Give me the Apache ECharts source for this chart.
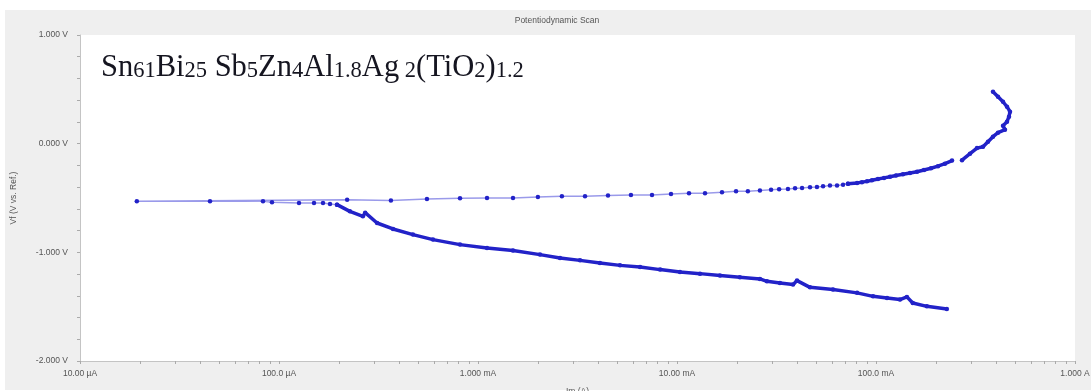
<!DOCTYPE html>
<html>
<head>
<meta charset="utf-8">
<title>Potentiodynamic Scan</title>
<script src="https://cdn.jsdelivr.net/npm/echarts@6/dist/echarts.min.js"></script>
<style>
  html, body { margin: 0; padding: 0; background: #ffffff; }
  #chart { width: 1091px; height: 391px; }
</style>
</head>
<body>
<div id="chart"></div>
<script>
// Cathodic branch, in scan order (high current end towards Ecorr): current in A, potential in V
const cathodicI = [0.227, 0.180, 0.153, 0.143, 0.132, 0.1136, 0.0966, 0.0803, 0.0608, 0.0466,
  0.0401, 0.0383, 0.0329, 0.0283, 0.0261, 0.0207, 0.01645, 0.01305, 0.01035, 0.00822,
  0.00652, 0.00517, 0.00410, 0.003255, 0.002583, 0.002049, 0.001499, 0.00111, 0.000812, 0.000594,
  0.000471, 0.000374, 0.000311, 0.000271, 0.000264, 0.000227, 0.0001957];
const cathodicV = [-1.521, -1.497, -1.466, -1.410, -1.435, -1.420, -1.405, -1.373, -1.343, -1.322,
  -1.260, -1.297, -1.282, -1.267, -1.245, -1.230, -1.214, -1.196, -1.180, -1.159,
  -1.134, -1.120, -1.098, -1.074, -1.052, -1.021, -0.984, -0.960, -0.929, -0.883,
  -0.837, -0.785, -0.730, -0.635, -0.669, -0.623, -0.561];

// Around Ecorr and the lower anodic region (sparse points joined by a thin line)
const transitionI = [0.0001957, 0.0001804, 0.0001664, 0.0001499, 0.000126, 0.0000922, 0.0000831, 0.000045, 0.0000193,
  0.00022, 0.000365, 0.000554, 0.000812, 0.00111, 0.001499, 0.00200, 0.00264, 0.00345, 0.00450,
  0.00587, 0.00749, 0.00933, 0.01149, 0.01383, 0.01683, 0.0198, 0.0227, 0.0261, 0.0297,
  0.0326, 0.0361, 0.0392, 0.0425, 0.0466, 0.0505, 0.0542, 0.0587, 0.0637, 0.0683, 0.0723];
const transitionV = [-0.561, -0.555, -0.546, -0.546, -0.546, -0.540, -0.531, -0.531, -0.531,
  -0.515, -0.522, -0.509, -0.503, -0.500, -0.500, -0.490, -0.485, -0.485, -0.478,
  -0.472, -0.472, -0.463, -0.457, -0.457, -0.448, -0.439, -0.439, -0.432, -0.423,
  -0.420, -0.417, -0.411, -0.408, -0.402, -0.398, -0.393, -0.386, -0.384, -0.377, -0.368];

// Upper anodic branch (dense points)
const anodicI = [0.0723, 0.0803, 0.0850, 0.0901, 0.0955, 0.1023, 0.1097, 0.1176, 0.1260,
  0.1367, 0.1482, 0.1607, 0.1743, 0.1890, 0.2049, 0.2221, 0.2410];
const anodicV = [-0.368, -0.362, -0.354, -0.347, -0.337, -0.325, -0.315, -0.304, -0.293,
  -0.281, -0.270, -0.258, -0.242, -0.226, -0.207, -0.184, -0.156];

// Passivation turn at the top of the scan
const passiveI = [0.2705, 0.2968, 0.3217, 0.3449, 0.3654, 0.3871, 0.4103, 0.4448,
  0.4347, 0.4553, 0.4659, 0.4714, 0.4553, 0.4347, 0.4103, 0.3871];
const passiveV = [-0.152, -0.092, -0.041, -0.028, 0.018, 0.064, 0.101, 0.129,
  0.166, 0.202, 0.248, 0.294, 0.340, 0.386, 0.432, 0.478];

// Axis ticks and labels
const xTickValues = [1e-5, 1e-4, 1e-3, 1e-2, 1e-1, 1];
const xTickLabels = ['10.00 \u00b5A', '100.0 \u00b5A', '1.000 mA', '10.00 mA', '100.0 mA', '1.000 A'];
const xMinorMultipliers = [1, 2, 3, 4, 5, 6, 7, 8, 9];
const yTickValues = [-2, -1, 0, 1];
const yTickLabels = ['-2.000 V', '-1.000 V', '0.000 V', '1.000 V'];

const xMinorExponents = [];
for (let d = -5; d < 0; d++) {
  xMinorMultipliers.forEach(function (k) { xMinorExponents.push(d + Math.log10(k)); });
}
xMinorExponents.push(0);

function zip(xs, ys) { return xs.map(function (x, i) { return [x, ys[i]]; }); }
function lookup(values, labels, v) {
  for (let i = 0; i < values.length; i++) {
    if (Math.abs(values[i] - v) <= Math.abs(values[i]) * 1e-6 + 1e-12) return labels[i];
  }
  return '';
}

const markColor = '#2222c8';
const smallText = { fontFamily: 'Liberation Sans', fontSize: 8.5, color: '#555555' };

const chart = echarts.init(document.getElementById('chart'), null, { renderer: 'canvas' });
chart.setOption({
  backgroundColor: '#ffffff',
  animation: false,
  textStyle: { fontFamily: 'Liberation Sans' },
  grid: {
    left: 80, right: 16, top: 35, bottom: 30,
    outerBoundsMode: 'none', containLabel: false,
    show: true, backgroundColor: '#ffffff', borderWidth: 0
  },
  xAxis: [{
    type: 'log', logBase: 10, min: 1e-5, max: 1,
    name: 'Im (A)', nameLocation: 'middle', nameGap: 26,
    nameTextStyle: smallText,
    axisLine: { show: true, onZero: false, lineStyle: { color: '#c4c4c4', width: 1 } },
    axisTick: { show: false },
    splitLine: { show: false },
    axisLabel: Object.assign({ margin: 8, formatter: function (v) { return lookup(xTickValues, xTickLabels, v); } }, smallText)
  }, {
    type: 'value', min: -5, max: 0, position: 'bottom',
    axisLine: { show: false, onZero: false },
    axisLabel: { show: false },
    splitLine: { show: false },
    axisTick: { show: true, length: 3, customValues: xMinorExponents, lineStyle: { color: '#aaaaaa' } }
  }],
  yAxis: {
    type: 'value', min: -2, max: 1, interval: 1,
    name: 'Vf (V vs. Ref.)', nameLocation: 'middle', nameGap: 62, nameRotate: 90,
    nameTextStyle: smallText,
    axisLine: { show: true, onZero: false, lineStyle: { color: '#c4c4c4', width: 1 } },
    axisTick: { show: true, length: 3, lineStyle: { color: '#aaaaaa' } },
    minorTick: { show: true, splitNumber: 5, length: 3, lineStyle: { color: '#aaaaaa' } },
    splitLine: { show: false },
    axisLabel: Object.assign({ margin: 12, formatter: function (v) { return lookup(yTickValues, yTickLabels, v); } }, smallText)
  },
  graphic: [
    { type: 'rect', z: -10, silent: true, shape: { x: 5, y: 10, width: 1086, height: 380 }, style: { fill: '#efefef' } },
    { type: 'text', x: 557, y: 21, silent: true,
      style: { text: 'Potentiodynamic Scan', fontFamily: 'Liberation Sans', fontSize: 8.5, fill: '#555555', align: 'center', verticalAlign: 'middle' } },
    { type: 'text', x: 101, y: 47, silent: true,
      style: {
        text: '{n|Sn}{s|61}{n|Bi}{s|25}{n| Sb}{s|5}{n|Zn}{s|4}{n|Al}{s|1.8}{n|Ag}{s| 2}{n|(TiO}{s|2}{n|)}{s|1.2}',
        align: 'left', verticalAlign: 'top', fill: '#151520',
        fontFamily: 'Liberation Serif', fontSize: 30.5,
        rich: {
          n: { fontFamily: 'Liberation Serif', fontSize: 30.5, lineHeight: 36, fill: '#151520', verticalAlign: 'bottom' },
          s: { fontFamily: 'Liberation Serif', fontSize: 22.5, lineHeight: 26, fill: '#151520', verticalAlign: 'bottom' }
        }
      } }
  ],
  series: [{
    name: 'cathodic', type: 'line', xAxisIndex: 0,
    data: zip(cathodicI, cathodicV),
    symbol: 'circle', symbolSize: 4.5, showAllSymbol: true,
    itemStyle: { color: markColor },
    lineStyle: { color: markColor, width: 3.5 },
    emphasis: { disabled: true }
  }, {
    name: 'transition', type: 'line', xAxisIndex: 0,
    data: zip(transitionI, transitionV),
    symbol: 'circle', symbolSize: 4.5, showAllSymbol: true,
    itemStyle: { color: markColor },
    lineStyle: { color: '#9a9aea', width: 1.5 },
    emphasis: { disabled: true }
  }, {
    name: 'anodic', type: 'line', xAxisIndex: 0,
    data: zip(anodicI, anodicV),
    symbol: 'circle', symbolSize: 4.5, showAllSymbol: true,
    itemStyle: { color: markColor },
    lineStyle: { color: markColor, width: 3.5 },
    emphasis: { disabled: true }
  }, {
    name: 'passive', type: 'line', xAxisIndex: 0,
    data: zip(passiveI, passiveV),
    symbol: 'circle', symbolSize: 4.5, showAllSymbol: true,
    itemStyle: { color: markColor },
    lineStyle: { color: markColor, width: 3.5 },
    emphasis: { disabled: true }
  }]
});
</script>
</body>
</html>
